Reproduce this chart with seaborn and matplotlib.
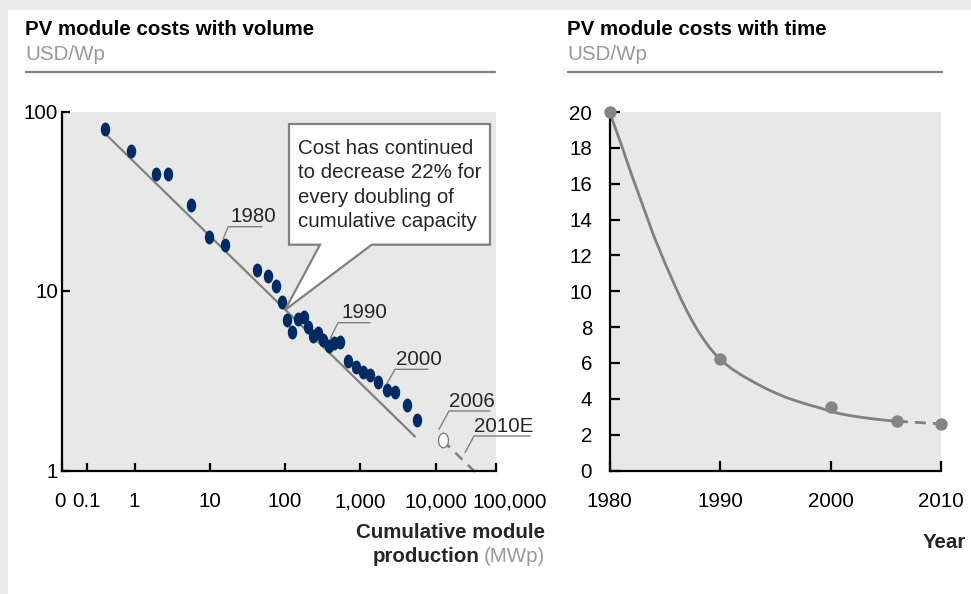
import numpy as np
import pandas as pd
import matplotlib
matplotlib.use("Agg")
import matplotlib.pyplot as plt
import seaborn as sns
from matplotlib.path import Path
from matplotlib.patches import Polygon, Rectangle
from matplotlib.lines import Line2D
from matplotlib.transforms import Affine2D, ScaledTranslation
from matplotlib.ticker import NullLocator

# ---------------- data ----------------
# Left: PV module cost vs cumulative production (log-log)
vol_mwp = [0.404, 0.887, 1.91, 2.78, 5.56, 9.82, 15.9, 42.6, 58.6, 75.5, 91.5,
           105, 122, 149, 178, 203, 232, 270, 321, 382, 449, 534, 689, 872,
           1089, 1337, 1707, 2227, 2899, 4111, 5623]
vol_cost = [79.4, 60.2, 44.7, 44.7, 30.0, 20.0, 18.0, 13.1, 12.1, 10.7, 8.72,
            6.9, 5.94, 6.97, 7.2, 6.34, 5.62, 5.86, 5.34, 4.91, 5.13, 5.17, 4.05, 3.77,
            3.52, 3.41, 3.13, 2.82, 2.72, 2.33, 1.92]
trend_mwp = [0.417, 5297]
trend_cost = [74.5, 1.545]
est2006_mwp = [12360]
est2006_cost = [1.47]
proj_mwp = [12360, 34900]
proj_cost = [1.47, 0.962]
x_tick_labels = ["0", "0.1", "1", "10", "100", "1,000", "10,000", "100,000"]
y_tick_vals_left = [1, 10, 100]
y_tick_labels_left = ["1", "10", "100"]

# Right: PV module cost vs time
time_years = [1980, 1990, 2000, 2006, 2010]
time_cost = [20.0, 6.2, 3.55, 2.75, 2.6]
curve_years = [1980, 1980.5, 1981, 1981.5, 1982, 1982.5, 1983, 1983.5, 1984, 1984.5,
               1985, 1985.5, 1986, 1986.5, 1987, 1987.5, 1988, 1988.5, 1989, 1989.5,
               1990, 1991, 1992, 1993, 1994, 1995, 1996, 1997, 1998, 1999, 2000,
               2001, 2002, 2003, 2004, 2005, 2006]
curve_cost = [20.0, 19.15, 18.3, 17.4, 16.5, 15.65, 14.8, 13.95, 13.1, 12.35,
              11.6, 10.9, 10.2, 9.53, 8.9, 8.33, 7.8, 7.33, 6.9, 6.53,
              6.2, 5.7, 5.3, 4.95, 4.62, 4.33, 4.07, 3.86, 3.67, 3.5, 3.3,
              3.15, 3.04, 2.95, 2.87, 2.80, 2.75]
year_ticks = [1980, 1990, 2000, 2010]
cost_ticks = list(range(0, 21, 2))

# ---------------- style ----------------
sns.set_theme(style="white")
plt.rcParams["font.family"] = ["Liberation Sans", "DejaVu Sans"]
FS = 14.8
GRAY = "#808080"
PANEL = "#e8e8e8"
NAVY = "#002a62"

W, H = 971, 594
fig = plt.figure(figsize=(W / 100, H / 100), dpi=100)
fig.patch.set_facecolor("#ebebeb")


def fx(x):
    return x / W


def fy(y):
    return 1 - y / H


fig.add_artist(Rectangle((fx(8), 0), 1, fy(10), transform=fig.transFigure,
                         facecolor="white", edgecolor="none", zorder=-10))

axL = fig.add_axes([fx(61.5), fy(470.5), (495.5 - 61.5) / W, (470.5 - 111.5) / H])
axR = fig.add_axes([fx(609.5), fy(470.5), (941 - 609.5) / W, (470.5 - 112) / H])

for ax in (axL, axR):
    ax.set_facecolor(PANEL)
    for s in ("top", "right"):
        ax.spines[s].set_visible(False)
    for s in ("left", "bottom"):
        ax.spines[s].set_color("black")
        ax.spines[s].set_linewidth(1.6)

# ---------------- left chart ----------------
axL.set_xscale("log")
axL.set_yscale("log")
xmin, xmax = 0.107, 62100
axL.set_xlim(xmin, xmax)
axL.set_ylim(1, 100)

sns.lineplot(x=trend_mwp, y=trend_cost, ax=axL, color=GRAY, linewidth=1.6,
             estimator=None, sort=False, zorder=2)
sns.lineplot(x=proj_mwp, y=proj_cost, ax=axL, color=GRAY, linewidth=1.8,
             estimator=None, sort=False, linestyle=(0, (4, 3)), clip_on=False, zorder=2)

ell = Path.unit_circle().transformed(Affine2D().scale(0.68, 1.0))
sns.scatterplot(x=vol_mwp, y=vol_cost, ax=axL, marker=ell, s=100, color=NAVY,
                linewidth=0, zorder=3)
sns.scatterplot(x=est2006_mwp, y=est2006_cost, ax=axL, marker=ell, s=110,
                facecolor="white", edgecolor=GRAY, linewidth=1.0, zorder=4)

axL.set_xticks([xmin, 0.232, 1, 10, 100, 1e3, 1e4, xmax])
axL.set_xticklabels(x_tick_labels)
axL.xaxis.set_minor_locator(NullLocator())
axL.set_yticks(y_tick_vals_left)
axL.set_yticklabels(y_tick_labels_left)
axL.yaxis.set_minor_locator(NullLocator())
axL.tick_params(axis="x", direction="in", length=6, width=1.6, color="black",
                labelsize=FS, labelcolor="black", pad=15.5, bottom=True)
axL.tick_params(axis="y", direction="in", length=6, width=1.6, color="black",
                labelsize=FS, labelcolor="black", pad=2.5, left=True)
axL.set_xlabel("")
axL.set_ylabel("")

xt = axL.get_xticklabels()
xt[0].set_transform(xt[0].get_transform() + ScaledTranslation(-0.02, 0, fig.dpi_scale_trans))
xt[-1].set_transform(xt[-1].get_transform() + ScaledTranslation(0.14, 0, fig.dpi_scale_trans))

# ---------------- right chart ----------------
axR.set_xlim(1980, 2010)
axR.set_ylim(0, 20)
sns.lineplot(x=curve_years, y=curve_cost, ax=axR, color=GRAY, linewidth=2,
             estimator=None, sort=False, zorder=2)
sns.lineplot(x=time_years[-2:], y=time_cost[-2:], ax=axR, color=GRAY, linewidth=2,
             estimator=None, sort=False, linestyle=(0, (4, 2.5)), zorder=2)
sns.scatterplot(x=time_years, y=time_cost, ax=axR, s=80, color="#858585",
                linewidth=0, clip_on=False, zorder=3)
axR.set_xticks(year_ticks)
axR.set_xticklabels([str(y) for y in year_ticks])
axR.set_yticks(cost_ticks)
axR.set_yticklabels([str(c) for c in cost_ticks])
axR.tick_params(axis="x", direction="in", length=7, width=1.6, color="black",
                labelsize=FS, labelcolor="black", pad=15.5, bottom=True)
axR.tick_params(axis="y", direction="in", length=7, width=1.6, color="black",
                labelsize=FS, labelcolor="black", pad=12.5, left=True)
axR.set_xlabel("")
axR.set_ylabel("")

# ---------------- titles ----------------
for x0, x1, title in ((25, 495, "PV module costs with volume"),
                      (567, 942, "PV module costs with time")):
    fig.text(fx(x0), fy(29.5), title, fontsize=FS, fontweight="bold",
             color="black", va="center", ha="left")
    fig.text(fx(x0), fy(55), "USD/Wp", fontsize=FS, color="#999999",
             va="center", ha="left")
    fig.add_artist(Line2D([fx(x0 + 1), fx(x1)], [fy(72), fy(72)],
                          transform=fig.transFigure, color=GRAY, linewidth=1.6))

# axis labels
fig.text(fx(545), fy(532), "Cumulative module", fontsize=FS, fontweight="bold",
         ha="right", va="center")
mwp = fig.text(fx(545), fy(556), "(MWp)", fontsize=FS, color="#999999",
               ha="right", va="center")
fig.canvas.draw()
bb = mwp.get_window_extent()
fig.text((bb.x0 - 4) / W, fy(556), "production", fontsize=FS, fontweight="bold",
         ha="right", va="center")
fig.text(fx(966), fy(542), "Year", fontsize=FS, fontweight="bold",
         ha="right", va="center")

# ---------------- callout ----------------
call = [(289, 124), (490, 124), (490, 244.7), (371.7, 244.7), (285, 310),
        (320, 244.7), (289, 244.7)]
fig.add_artist(Polygon([(fx(a), fy(b)) for a, b in call], closed=True,
                       transform=fig.transFigure, facecolor="white",
                       edgecolor=GRAY, linewidth=1.6, zorder=5))
for i, line in enumerate(["Cost has continued", "to decrease 22% for",
                          "every doubling of", "cumulative capacity"]):
    fig.text(fx(298), fy(148.3 + i * 24.5), line, fontsize=FS, ha="left",
             va="center", zorder=6)

# ---------------- year labels with leaders ----------------
labels = [
    ("1980", 230.7, 216, 228.3, 262, 226.7, 223.3, 238.3),
    ("1990", 341, 313, 338, 370, 322.7, 330, 339),
    ("2000", 396, 359.5, 395, 428, 369.3, 386.7, 384),
    ("2006", 449.3, 401.7, 449, 490, 411, 439, 429.3),
    ("2010E", 474, 426.7, 474, 530, 436, 465, 452.7),
]
for txt, tx, ty, ux0, ux1, uy, dx, dy in labels:
    fig.text(fx(tx), fy(ty), txt, fontsize=FS, ha="left", va="center", zorder=6)
    fig.add_artist(Line2D([fx(ux1), fx(ux0), fx(dx)], [fy(uy), fy(uy), fy(dy)],
                          transform=fig.transFigure, color=GRAY, linewidth=1.0,
                          zorder=6))

fig.savefig("out.png", dpi=100, facecolor=fig.get_facecolor())
